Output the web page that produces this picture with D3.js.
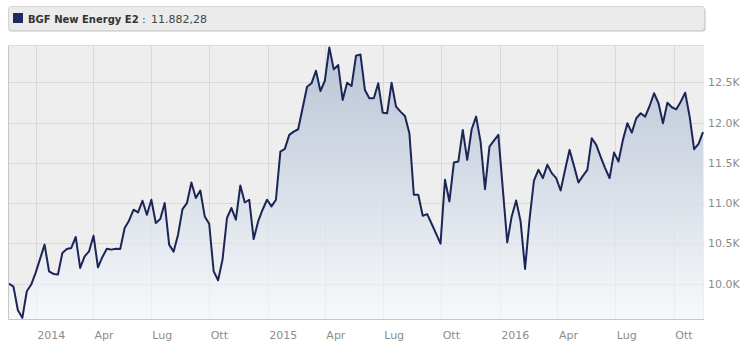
<!DOCTYPE html>
<html>
<head>
<meta charset="utf-8">
<script src="https://cdn.jsdelivr.net/npm/d3@7"></script>
<style>
  body { margin: 0; background: #ffffff; }
  svg { display: block; font-family: "DejaVu Sans", Verdana, sans-serif; }
</style>
</head>
<body>
<svg id="chart" width="750" height="352"></svg>
<script>

/****************************/
/*           Data           */
/****************************/
const seriesName = "BGF New Energy E2";

// weekly closes, first on Wed 20 Nov 2013, last on Wed 16 Nov 2016
const firstDate = new Date(2013, 10, 20);
const lastDate  = new Date(2016, 10, 17);

const navValues = [
  10000,  9963,  9669,  9575,  9905,  9988, 10136, 10310, 10484, 10153,
  10120, 10112, 10381, 10430, 10443, 10579, 10195, 10339, 10401, 10595,
  10202, 10331, 10434, 10422, 10434, 10430, 10691, 10785, 10918, 10884,
  11029, 10856, 11042, 10753, 10802, 11001, 10484, 10397, 10608, 10926,
  11001, 11256, 11063, 11157, 10835, 10744, 10153, 10041, 10298, 10815,
  10939, 10794, 11219, 11008, 11042, 10554, 10773, 10918, 11042, 10959,
  11042, 11641, 11674, 11848, 11889, 11918, 12182, 12447, 12489, 12645,
  12393, 12521, 12935, 12662, 12716, 12282, 12496, 12455, 12831, 12848,
  12406, 12303, 12303, 12489, 12124, 12117, 12496, 12199, 12137, 12083,
  11869, 11104, 11104, 10843, 10864, 10744, 10620, 10496, 11290, 11021,
  11504, 11517, 11910, 11538, 11918, 12075, 11765, 11174, 11703, 11777,
  11848, 11178, 10512, 10835, 11033, 10773, 10182, 10794, 11281, 11414,
  11311, 11476, 11373, 11311, 11157, 11414, 11662, 11463, 11256, 11339,
  11414, 11807, 11724, 11575, 11435, 11311, 11628, 11517, 11786, 11993,
  11876, 12055, 12117, 12075, 12207, 12365, 12241, 11993, 12248, 12191,
  12166, 12261, 12372, 12075, 11670, 11736, 11882.28
];

const yDomain = [9560, 12965];
const yTicks  = [10000, 10500, 11000, 11500, 12000, 12500];

const xTickDates = [
  new Date(2014, 0, 1), new Date(2014, 3, 1), new Date(2014, 6, 1), new Date(2014, 9, 1),
  new Date(2015, 0, 1), new Date(2015, 3, 1), new Date(2015, 6, 1), new Date(2015, 9, 1),
  new Date(2016, 0, 1), new Date(2016, 3, 1), new Date(2016, 6, 1), new Date(2016, 9, 1)
];
const xTickLabels = ["2014", "Apr", "Lug", "Ott", "2015", "Apr", "Lug", "Ott", "2016", "Apr", "Lug", "Ott"];

/****************************/
/*          Layout          */
/****************************/
const plot = { left: 8, right: 704, top: 45, bottom: 319 };

const dates = d3.timeWednesday.range(firstDate, lastDate);
const data = navValues.map((v, i) => ({ date: dates[i], value: v }));

const itFormat = d3.formatLocale({
  decimal: ",", thousands: ".", grouping: [3], currency: ["", " €"]
}).format(",.2f");

const svg = d3.select("#chart");

const xScale = d3.scaleTime()
  .domain(d3.extent(data, d => d.date))
  .range([plot.left + 1, plot.right - 1]);

const yScale = d3.scaleLinear()
  .domain(yDomain)
  .range([plot.bottom, plot.top]);

/****************************/
/*          Legend          */
/****************************/
const legend = svg.append("g").attr("class", "legend");

legend.append("rect")
  .attr("x", 8.5).attr("y", 7.5)
  .attr("width", 697).attr("height", 24)
  .attr("rx", 3).attr("ry", 3)
  .attr("fill", "#bdbdbd");

legend.append("rect")
  .attr("x", 8.5).attr("y", 6.5)
  .attr("width", 696).attr("height", 24)
  .attr("rx", 3).attr("ry", 3)
  .attr("fill", "#ebebeb")
  .attr("stroke", "#d4d4d4");

legend.append("rect")
  .attr("x", 13).attr("y", 13)
  .attr("width", 10).attr("height", 10)
  .attr("fill", "#1b2a66");

const legendText = legend.append("text")
  .attr("y", 22.5)
  .attr("fill", "#333333");

legendText.append("tspan")
  .attr("x", 28)
  .style("font-size", "10px")
  .style("font-weight", 700)
  .text(seriesName);

legendText.append("tspan")
  .attr("x", 142)
  .style("font-size", "11px")
  .attr("fill", "#444444")
  .text(":");

legendText.append("tspan")
  .attr("x", 151)
  .style("font-size", "11px")
  .attr("fill", "#444444")
  .text(itFormat(navValues[navValues.length - 1]));

/****************************/
/*    Background + grid     */
/****************************/
svg.append("rect")
  .attr("x", plot.left).attr("y", plot.top)
  .attr("width", plot.right - plot.left)
  .attr("height", plot.bottom - plot.top)
  .attr("fill", "#eeeeee");

const grid = svg.append("g").attr("class", "grid");

grid.selectAll(".h-grid")
  .data(yTicks)
  .join("line")
    .attr("class", "h-grid")
    .attr("x1", plot.left).attr("x2", plot.right)
    .attr("y1", d => Math.round(yScale(d)) + 0.5)
    .attr("y2", d => Math.round(yScale(d)) + 0.5)
    .attr("stroke", "#d9d9d9");

grid.selectAll(".v-grid")
  .data(xTickDates)
  .join("line")
    .attr("class", "v-grid")
    .attr("x1", d => Math.round(xScale(d)) + 0.5)
    .attr("x2", d => Math.round(xScale(d)) + 0.5)
    .attr("y1", plot.top).attr("y2", plot.bottom)
    .attr("stroke", "#d9d9d9");

/****************************/
/*      Area and line       */
/****************************/
const grad = svg.append("defs")
  .append("linearGradient")
    .attr("id", "area-fill")
    .attr("gradientUnits", "userSpaceOnUse")
    .attr("x1", 0).attr("x2", 0)
    .attr("y1", plot.top).attr("y2", plot.bottom);

grad.append("stop").attr("offset", 0).attr("stop-color", "#b3c0d3");
grad.append("stop").attr("offset", 1).attr("stop-color", "#f8f9fb");

const area = d3.area()
  .x(d => xScale(d.date))
  .y0(plot.bottom)
  .y1(d => yScale(d.value));

const line = d3.line()
  .x(d => xScale(d.date))
  .y(d => yScale(d.value));

svg.append("path")
  .datum(data)
  .attr("d", area)
  .attr("fill", "url(#area-fill)")
  .attr("fill-opacity", 0.92);

// grid shows faintly through the fill
grid.clone(true).raise().attr("opacity", 0.25);

svg.append("path")
  .datum(data)
  .attr("d", line)
  .attr("fill", "none")
  .attr("stroke", "#1b2657")
  .attr("stroke-width", 2)
  .attr("stroke-linejoin", "round");

// plot frame: left and bottom edges
svg.append("path")
  .attr("d", `M${plot.left + 0.5},${plot.top} V${plot.bottom + 0.5} H${plot.right}`)
  .attr("fill", "none")
  .attr("stroke", "#c6c6c6");

svg.append("line")
  .attr("x1", plot.left).attr("x2", plot.right)
  .attr("y1", plot.top + 0.5).attr("y2", plot.top + 0.5)
  .attr("stroke", "#dcdcdc");

/****************************/
/*           Axes           */
/****************************/
const yAxis = svg.append("g")
  .attr("transform", `translate(${plot.right}, 0)`)
  .call(d3.axisRight(yScale)
    .tickValues(yTicks)
    .tickSize(0)
    .tickPadding(4)
    .tickFormat(d => (d / 1000).toFixed(1) + "K"));

const xAxis = svg.append("g")
  .attr("transform", `translate(0, ${plot.bottom})`)
  .call(d3.axisBottom(xScale)
    .tickValues(xTickDates)
    .tickSize(0)
    .tickPadding(12)
    .tickFormat((_, i) => xTickLabels[i]));

[yAxis, xAxis].forEach(ax => {
  ax.select(".domain").remove();
  ax.selectAll("text")
    .attr("fill", "#8c8c8c")
    .style("font-size", "11px")
    .style("font-family", "'DejaVu Sans', Verdana, sans-serif");
});

xAxis.selectAll("text")
  .attr("text-anchor", "start")
  .attr("x", 1);

</script>
</body>
</html>
